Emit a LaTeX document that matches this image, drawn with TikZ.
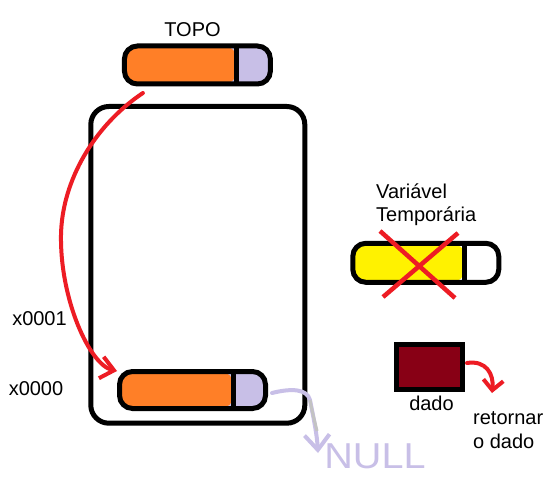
\documentclass[tikz,border=0pt]{standalone}
\usepackage{fontspec}
\setmainfont{Liberation Sans}
\usetikzlibrary{arrows.meta}
\definecolor{porange}{RGB}{255,127,39}
\definecolor{plav}{RGB}{200,191,231}
\definecolor{pyellow}{RGB}{255,242,0}
\definecolor{pred}{RGB}{237,28,36}
\definecolor{pdark}{RGB}{136,0,21}
\definecolor{pgrey}{RGB}{195,195,195}
\tikzset{
  pill/.style n args={3}{draw=black, line width=5pt, rounded corners=13pt,
    minimum width=146pt, inner sep=0pt, fill=#2,
    path picture={
      \fill[#1] (path picture bounding box.north west) rectangle ([xshift=-#3]path picture bounding box.south east);
      \draw[line width=5pt] ([xshift=-#3]path picture bounding box.north east) -- ([xshift=-#3]path picture bounding box.south east);
    }},
  lbl/.style={inner sep=0pt, font=\fontsize{20}{23.3}\selectfont},
  redarrow/.style={draw=pred, line width=4pt, line cap=round, line join=round},
  lavarrow/.style={draw=plav, line width=4pt, line cap=round, line join=round},
}
\begin{document}
\begin{tikzpicture}[x=1pt,y=-1pt]
\useasboundingbox[fill=white] (0,0) rectangle (560,481);

% stack container
\node[draw, line width=5pt, rounded corners=18pt, minimum width=214pt,
      minimum height=316.7pt, inner sep=0pt] (stack) at (197.8,264.85) {};

% top pointer
\node[lbl, anchor=base] (topo) at (192.5,36.7) {TOPO};
\node[pill={porange}{plav}{33.5pt}, minimum height=38pt] (topP) at (197.4,65) {};

% bottom element
\node[pill={porange}{plav}{32pt}, minimum height=37pt] (botP) at (192.5,390) {};

% addresses
\node[lbl, anchor=base] (a1) at (39.5,326) {x0001};
\node[lbl, anchor=base] (a0) at (36,395) {x0000};

% temporary variable
\node[lbl, anchor=base west, align=left] (tmptxt) at (376,221.7) {Variável\\Temporária};
\node[pill={pyellow}{white}{34pt}, minimum height=39pt] (tmpP) at (425.8,262.8) {};
\draw[pred, line width=4.5pt] (380,231) -- (455,298);
\draw[pred, line width=4.5pt] (458,233) -- (383,297);

% data box
\node[draw, line width=5pt, fill=pdark, minimum width=66pt, minimum height=45pt, inner sep=0pt] (dado) at (429.5,367) {};
\node[lbl, anchor=base] (dadotxt) at (431.5,410) {dado};
\node[lbl, anchor=base west, align=left] (ret) at (473,448) {retornar\\o dado};
\coordinate (retTip) at (492,393);
\draw[redarrow, -{Straight Barb[length=10pt,width=20pt]}]
  ([shift={(2,-4)}]dado.east) .. controls (486,360) and (494,374) .. (retTip);

% pointer arrow from TOPO to bottom element
\draw[redarrow, -{Straight Barb[length=13pt,width=22pt]}]
  ([shift={(21,6.5)}]topP.south west) .. controls (95,125) and (62,180) .. (61,235)
  .. controls (60,300) and (90,365) .. ([shift={(0,2)}]botP.north west);

% NULL pointer
\node[inner sep=0pt, text=plav, font=\fontsize{36}{36}\selectfont, anchor=base, xscale=1.1] (null) at (375,468) {NULL};
\coordinate (nullTip) at (318,453);
\draw[lavarrow, -{Straight Barb[length=15pt,width=25pt]}]
  ([shift={(4,3)}]botP.east) .. controls (292,388) and (307,389) .. (310,400)
  .. controls (314,420) and (317,435) .. (nullTip);
\draw[pgrey, line width=3pt] (310,400) .. controls (312,412) and (315,422) .. (317,431);
\end{tikzpicture}
\end{document}
